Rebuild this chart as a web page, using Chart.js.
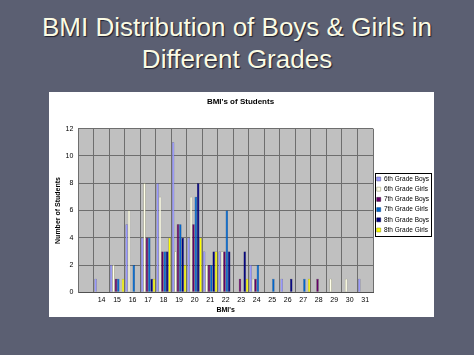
<!DOCTYPE html>
<html>
<head>
<meta charset="utf-8">
<script src="https://cdn.jsdelivr.net/npm/chart.js@4.4.1/dist/chart.umd.min.js"></script>
<style>
  html, body { margin: 0; padding: 0; }
  body {
    width: 474px; height: 355px; overflow: hidden; position: relative;
    background: #5b5f72;
    font-family: "Liberation Sans", Arial, sans-serif;
  }
  #slide-title {
    position: absolute; left: 0; top: 12px; width: 474px;
    text-align: center; color: #fbfbe4;
    font-size: 26px; line-height: 31.6px;
    text-shadow: 1px 1px 1px #1e2030;
  }
  #chart-box {
    position: absolute; left: 49px; top: 92px; width: 385px; height: 225px;
    background: #ffffff;
  }
</style>
</head>
<body>
<div id="slide-title">BMI Distribution of Boys &amp; Girls in<br>Different Grades</div>
<div id="chart-box"><canvas id="bmi-chart" width="385" height="225"></canvas></div>
<script>
// category labels (first slot is empty, as in the original sheet)
const bmiLabels = ['', '14', '15', '16', '17', '18', '19', '20', '21', '22', '23', '24', '25', '26', '27', '28', '29', '30', '31'];

// number of students per BMI, one array per group
const boys6  = [0, 1, 2, 5, 4, 8, 11, 4, 3, 3, 0, 2, 0, 1, 0, 0, 0, 0, 1];
const girls6 = [0, 0, 2, 6, 8, 7, 3, 7, 2, 3, 0, 1, 0, 0, 0, 0, 1, 1, 0];
const boys7  = [0, 0, 1, 0, 4, 3, 5, 5, 2, 3, 1, 1, 0, 0, 0, 1, 0, 0, 0];
const girls7 = [0, 0, 1, 2, 4, 3, 5, 7, 2, 6, 0, 2, 1, 0, 1, 0, 0, 0, 0];
const boys8  = [0, 0, 0, 0, 1, 3, 4, 8, 3, 3, 3, 0, 0, 1, 0, 0, 0, 0, 0];
const girls8 = [0, 0, 1, 0, 1, 4, 2, 4, 3, 0, 1, 0, 0, 0, 1, 0, 0, 0, 0];

const seriesNames = ['6th Grade Boys', '6th Grade Girls', '7th Grade Boys', '7th Grade Girls', '8th Grade Boys', '8th Grade Girls'];

const fontFamily = '"Liberation Sans", Arial, sans-serif';

// grey plot area like the old Excel charts
const plotBackground = {
    id: 'plotBackground',
    beforeDraw(chart) {
        const a = chart.chartArea;
        const ctx = chart.ctx;
        ctx.save();
        ctx.fillStyle = '#c0c0c0';
        ctx.fillRect(a.left, a.top, a.right - a.left, a.bottom - a.top);
        ctx.restore();
    }
};

// thin frame around the legend
const legendFrame = {
    id: 'legendFrame',
    afterDraw(chart) {
        const boxes = chart.legend && chart.legend.legendHitBoxes;
        if (!boxes || !boxes.length) return;
        let l = Infinity, r = -Infinity, t = Infinity, b = -Infinity;
        boxes.forEach(h => {
            l = Math.min(l, h.left); r = Math.max(r, h.left + h.width);
            t = Math.min(t, h.top); b = Math.max(b, h.top + h.height);
        });
        const ctx = chart.ctx;
        ctx.save();
        ctx.strokeStyle = '#000000';
        ctx.lineWidth = 1;
        ctx.strokeRect(Math.round(l - 2) + 0.5, Math.round(t - 2.5) + 0.5, Math.round(r - l + 4), Math.round(b - t + 5));
        ctx.restore();
    }
};

function makeSet(label, data, fill, stroke) {
    return {
        label: label,
        data: data,
        backgroundColor: fill,
        borderColor: stroke,
        borderWidth: 0.5,
        categoryPercentage: 0.92,
        barPercentage: 1.0
    };
}

new Chart(document.getElementById('bmi-chart'), {
    type: 'bar',
    data: {
        labels: bmiLabels,
        datasets: [
            makeSet(seriesNames[0], boys6, '#9999ff', '#55558a'),
            makeSet(seriesNames[1], girls6, '#ffffe8', '#8c8c66'),
            makeSet(seriesNames[2], boys7, '#660066', '#330033'),
            makeSet(seriesNames[3], girls7, '#0066cc', '#003f80'),
            makeSet(seriesNames[4], boys8, '#000080', '#000040'),
            makeSet(seriesNames[5], girls8, '#ffff00', '#8c8c00')
        ]
    },
    options: {
        responsive: false,
        animation: false,
        layout: { padding: { left: 0, right: 2, top: 0, bottom: 0 } },
        plugins: {
            title: {
                display: true,
                text: "BMI's of Students",
                color: '#000000',
                font: { family: fontFamily, size: 8, weight: 'bold' },
                padding: { top: 4.5, bottom: 22.6 }
            },
            legend: {
                display: true,
                position: 'right',
                maxWidth: 59,
                labels: {
                    color: '#000000',
                    boxWidth: 4,
                    boxHeight: 4,
                    padding: 3.7,
                    font: { family: fontFamily, size: 6.5 }
                }
            },
            tooltip: { enabled: false }
        },
        scales: {
            x: {
                grid: { color: '#6e6e6e', lineWidth: 1, offset: true, drawTicks: false },
                border: { color: '#505050' },
                ticks: { color: '#000000', padding: 4, autoSkip: false, maxRotation: 0, font: { family: fontFamily, size: 7 } },
                title: {
                    display: true, text: "BMI's", color: '#000000',
                    font: { family: fontFamily, size: 7, weight: 'bold' },
                    padding: { top: 0, bottom: 3.1 }
                },
                afterFit(scale) { scale.height = 24.7; }
            },
            y: {
                min: 0,
                max: 12,
                grid: { color: '#6e6e6e', lineWidth: 1, drawTicks: false },
                border: { color: '#6e6e6e' },
                ticks: { stepSize: 2, color: '#000000', padding: 5, font: { family: fontFamily, size: 7 } },
                title: {
                    display: true, text: 'Number of Students', color: '#000000',
                    font: { family: fontFamily, size: 7, weight: 'bold' },
                    padding: { top: 5.3, bottom: 0 }
                },
                afterFit(scale) { scale.width = 29.3; }
            }
        }
    },
    plugins: [plotBackground, legendFrame]
});
</script>
</body>
</html>
